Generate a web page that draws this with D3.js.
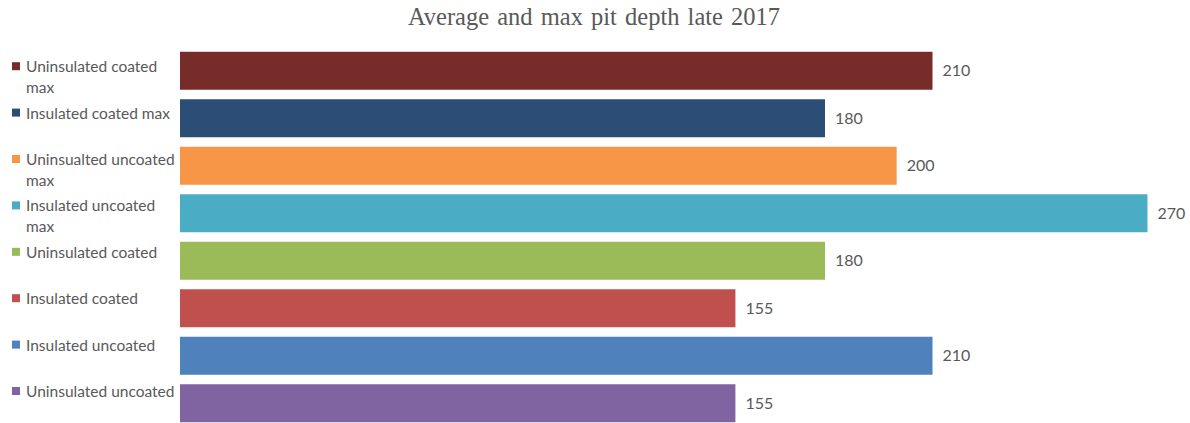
<!DOCTYPE html>
<html>
<head>
<meta charset="utf-8">
<script src="https://cdn.jsdelivr.net/npm/d3@7"></script>
<style>
  html, body { margin: 0; padding: 0; background: #fff; }
  svg { display: block; }
</style>
</head>
<body>
<svg id="chart" width="1190" height="423"></svg>
<script>
// Series names (top to bottom), pit depths and bar colours
const categories = [
  "Uninsulated coated max",
  "Insulated coated max",
  "Uninsualted uncoated max",
  "Insulated uncoated max",
  "Uninsulated coated",
  "Insulated coated",
  "Insulated uncoated",
  "Uninsulated uncoated"
];
const values = [210, 180, 200, 270, 180, 155, 210, 155];
const colors = ["#772C2A", "#2C4D75", "#F79646", "#4BACC6", "#9BBB59", "#C0504D", "#4F81BD", "#8064A2"];
const title = "Average and max pit depth late 2017";

const W = 1190, H = 423;
const svg = d3.select("#chart");
const textColor = "#595959";
const sansFont = "Lato, 'Open Sans', sans-serif";

// Title
svg.append("text")
  .attr("x", W / 2 - 1)
  .attr("y", 25)
  .attr("text-anchor", "middle")
  .attr("font-family", "'Liberation Serif', 'Times New Roman', serif")
  .attr("font-size", 24.5)
  .attr("fill", textColor)
  .attr("word-spacing", 2)
  .text(title);

// Scales
const x = d3.scaleLinear().domain([0, 270]).range([180, 1147.5]);
const y = d3.scaleBand().domain(categories).range([47, 427]).paddingInner(0.2).paddingOuter(0.1);

// Bars
svg.append("g").selectAll("rect")
  .data(categories)
  .join("rect")
  .attr("x", x(0))
  .attr("y", d => y(d))
  .attr("width", (d, i) => x(values[i]) - x(0))
  .attr("height", y.bandwidth())
  .attr("fill", (d, i) => colors[i]);

// Value labels
svg.append("g").selectAll("text")
  .data(categories)
  .join("text")
  .attr("x", (d, i) => x(values[i]) + 10)
  .attr("y", d => y(d) + y.bandwidth() / 2)
  .attr("dy", "0.35em")
  .attr("font-family", sansFont)
  .attr("font-size", 16)
  .attr("fill", textColor)
  .text((d, i) => values[i]);

// Legend, evenly spaced down the left side
const legendTop = 66.7, legendStep = 46.4, lineHeight = 20.7, wrapWidth = 150;
const legend = svg.append("g");
categories.forEach((name, i) => {
  const cy = legendTop + i * legendStep;
  legend.append("rect")
    .attr("x", 12).attr("y", cy - 4.5)
    .attr("width", 8).attr("height", 8)
    .attr("fill", colors[i]);
  const t = legend.append("text")
    .attr("x", 26)
    .attr("font-family", sansFont)
    .attr("font-size", 15.5)
    .attr("fill", textColor);
  // wrap words to the legend column width
  const words = name.split(" ");
  let line = [], lineNo = 0;
  let ts = t.append("tspan").attr("x", 26).attr("y", cy).attr("dy", "0.35em");
  words.forEach(w => {
    line.push(w);
    ts.text(line.join(" "));
    if (ts.node().getComputedTextLength() > wrapWidth && line.length > 1) {
      line.pop();
      ts.text(line.join(" "));
      line = [w];
      lineNo++;
      ts = t.append("tspan").attr("x", 26).attr("y", cy + lineNo * lineHeight).attr("dy", "0.35em").text(w);
    }
  });
});
</script>
</body>
</html>
